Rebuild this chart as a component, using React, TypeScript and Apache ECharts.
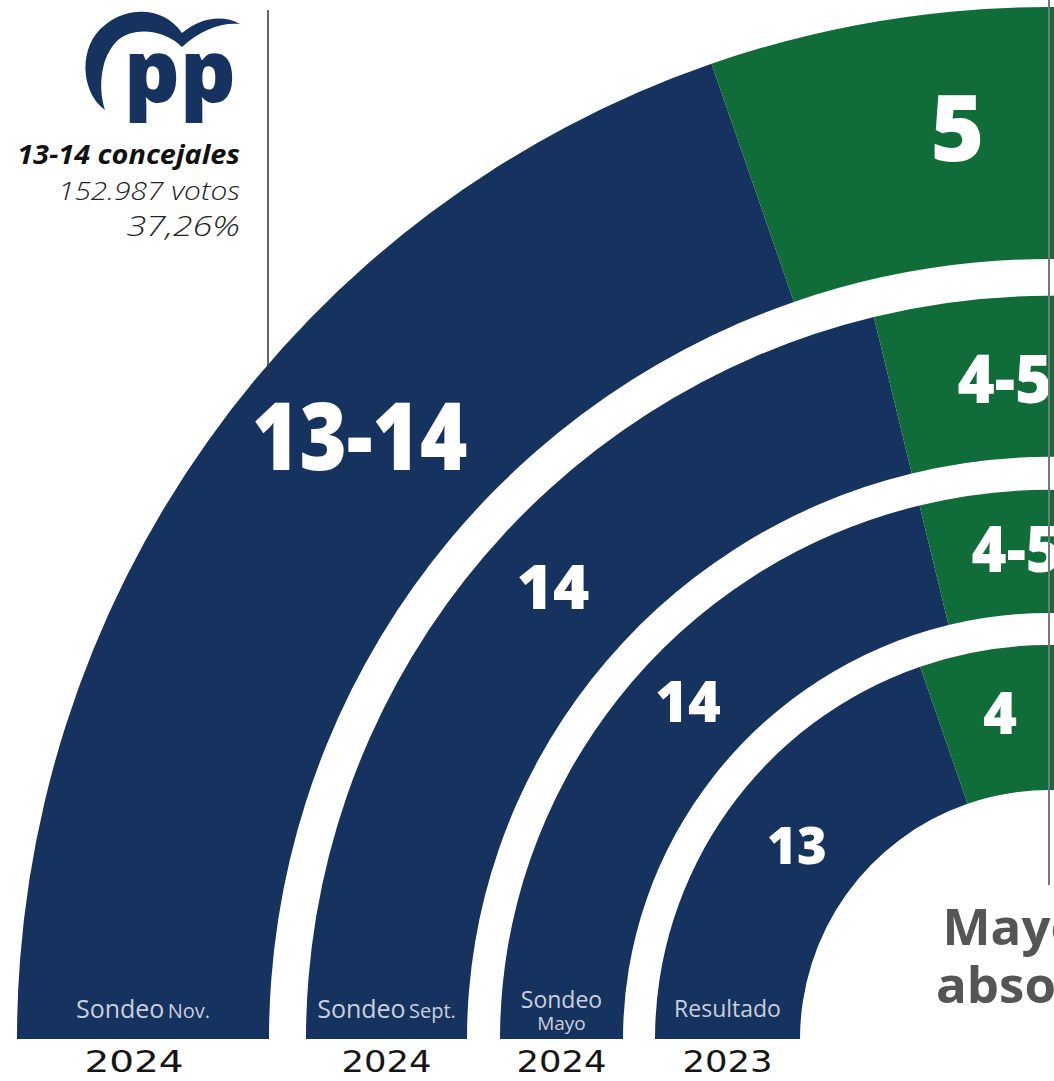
import React, { useEffect, useRef } from "react";
import * as echarts from "echarts";

// ---- data ----
const TOTAL_SEATS = 33;
const ringNames = ["Sondeo Nov.", "Sondeo Sept.", "Sondeo Mayo", "Resultado"];
const ringYears = ["2024", "2024", "2024", "2023"];
const ppSeats = [13, 14, 14, 13];
const ppLabels = ["13-14", "14", "14", "13"];
const voxSeats = [5, 4.5, 4.5, 4];
const voxLabels = ["5", "4-5", "4-5", "4"];
const ppSummary = ["13-14 concejales", "152.987 votos", "37,26%"];
const majorityText = ["Mayoría", "absoluta"];

// ---- layout / style ----
const W = 1054;
const H = 1081;
const CX = 1049;
const CY = 1039;
const ringRadii: [number, number][] = [
  [780, 1032],
  [582, 743],
  [426, 549],
  [249, 394],
];
// label placement: fraction along the party's arc, fraction across the ring
const ppLabelFrac = [0.582, 0.556, 0.566, 0.532];
const ppLabelRFrac = [0.544, 0.561, 0.563, 0.48];
const voxLabelFrac = [0.49, 0.4, 0.4, 0.485];
const voxLabelRFrac = [0.546, 0.51, 0.545, 0.57];
const ppFont = [93, 62, 56, 51];
const ppScale = [0.87, 1, 1, 1];
const voxFont = [92, 67, 63, 58];
const voxScale = [1, 0.95, 0.95, 1];
const BLUE = "#16325f";
const GREEN = "#106c38";
const OTHER = "#c8c8c8";
const RINGTXT = "#c9d0dd";

const BIRD =
  "M 105 110 C 80 92 78 45 105 25 C 130 5 165 8 182 33 C 200 18 222 14 240 24 C 222 22 200 30 182 47 C 165 30 135 26 118 40 C 100 57 98 88 105 110 Z";

let registered = false;
function ensureShapes() {
  if (registered) return;
  echarts.graphic.registerShape("ppbird", echarts.graphic.extendPath(BIRD, {}));
  registered = true;
}

function polar(seat: number, r: number) {
  const theta = ((180 - (seat * 180) / TOTAL_SEATS) * Math.PI) / 180;
  return [CX + r * Math.cos(theta), CY - r * Math.sin(theta)];
}

function txt(x: number, y: number, text: string, font: string, fill: string, align = "center", extra: any = {}) {
  return {
    type: "text",
    x,
    y,
    z: 100,
    silent: true,
    ...extra,
    style: {
      text,
      font,
      fill,
      align,
      textAlign: align,
      verticalAlign: "middle",
      textVerticalAlign: "middle",
    },
  };
}

export default function App() {
  const ref = useRef<HTMLDivElement>(null);
  useEffect(() => {
    if (!ref.current) return;
    ensureShapes();
    const chart = echarts.init(ref.current, undefined, { renderer: "svg" });

    const series = ringRadii.map((rr, i) => ({
      type: "pie",
      z: 1,
      center: [CX, CY],
      radius: rr,
      startAngle: 180,
      clockwise: true,
      silent: true,
      label: { show: false },
      labelLine: { show: false },
      emphasis: { disabled: true },
      itemStyle: { borderWidth: 0 },
      data: [
        { name: "PP", value: ppSeats[i], itemStyle: { color: BLUE } },
        { name: "Vox", value: voxSeats[i], itemStyle: { color: GREEN } },
        { name: "Otros", value: TOTAL_SEATS - ppSeats[i] - voxSeats[i], itemStyle: { color: OTHER } },
        { name: "", value: TOTAL_SEATS, itemStyle: { color: "rgba(0,0,0,0)" } },
      ],
    }));

    const graphics: any[] = [];

    ringRadii.forEach((rr, i) => {
      const thick = rr[1] - rr[0];
      const [px, py] = polar(ppSeats[i] * ppLabelFrac[i], rr[0] + thick * ppLabelRFrac[i]);
      graphics.push(
        txt(px, py, ppLabels[i], `800 ${ppFont[i]}px "Open Sans"`, "#ffffff", "center", { scaleX: ppScale[i] })
      );
      const [vx, vy] = polar(ppSeats[i] + voxSeats[i] * voxLabelFrac[i], rr[0] + thick * voxLabelRFrac[i]);
      graphics.push(
        txt(vx, vy, voxLabels[i], `800 ${voxFont[i]}px "Open Sans"`, "#ffffff", "center", { scaleX: voxScale[i] })
      );
      const cx = CX - (rr[0] + rr[1]) / 2;
      const parts = ringNames[i].split(" ");
      if (i === 2) {
        graphics.push(txt(cx, 999, parts[0], `400 23px "Open Sans"`, RINGTXT));
        graphics.push(txt(cx, 1023, parts[1], `400 19px "Open Sans"`, RINGTXT));
      } else if (parts.length === 2) {
        graphics.push({
          type: "text",
          x: cx,
          y: 1008,
          z: 100,
          silent: true,
          style: {
            text: `{a|${parts[0]}} {b|${parts[1]}}`,
            align: "center",
            textAlign: "center",
            verticalAlign: "middle",
            textVerticalAlign: "middle",
            rich: {
              a: { font: `400 25px "Open Sans"`, fill: RINGTXT, color: RINGTXT, verticalAlign: "bottom" },
              b: { font: `400 20px "Open Sans"`, fill: RINGTXT, color: RINGTXT, verticalAlign: "bottom" },
            },
          },
        });
      } else {
        graphics.push(txt(cx, 1008, ringNames[i], `400 23px "Open Sans"`, RINGTXT));
      }
      graphics.push(
        txt(cx - (i === 0 ? 9 : 0), 1062, ringYears[i], `400 30px "DejaVu Sans"`, "#151515", "center", {
          scaleX: i === 0 ? 1.3 : 1.18,
        })
      );
    });

    // majority line
    graphics.push({
      type: "line",
      z: 100,
      silent: true,
      shape: { x1: CX, y1: 0, x2: CX, y2: 885 },
      style: { stroke: "#777777", lineWidth: 2 },
    });
    graphics.push(txt(1047, 925, majorityText[0], `700 51px "Open Sans"`, "#555555"));
    graphics.push(txt(1047, 983, majorityText[1], `700 51px "Open Sans"`, "#555555"));

    // PP annotation
    graphics.push({
      type: "line",
      z: 100,
      silent: true,
      shape: { x1: 268, y1: 10, x2: 268, y2: 378 },
      style: { stroke: "#333333", lineWidth: 1.5 },
    });
    graphics.push({
      type: "ppbird",
      x: 0,
      y: 0,
      z: 100,
      silent: true,
      style: { fill: BLUE },
    });
    graphics.push(txt(124, 68, "pp", `800 87px "Open Sans"`, BLUE, "left"));
    graphics.push(txt(240, 153, ppSummary[0], `italic 700 27px "Open Sans"`, "#111111", "right", { scaleX: 1.07 }));
    graphics.push(txt(240, 190, ppSummary[1], `italic 300 26px "Open Sans"`, "#222222", "right", { scaleX: 1.15 }));
    graphics.push(txt(240, 225, ppSummary[2], `italic 300 27px "Open Sans"`, "#222222", "right", { scaleX: 1.32 }));

    chart.setOption({
      animation: false,
      backgroundColor: "#ffffff",
      series,
      graphic: { elements: graphics },
    });
    return () => chart.dispose();
  }, []);
  return <div ref={ref} style={{ position: "absolute", left: 0, top: 0, width: W, height: H }} />;
}
